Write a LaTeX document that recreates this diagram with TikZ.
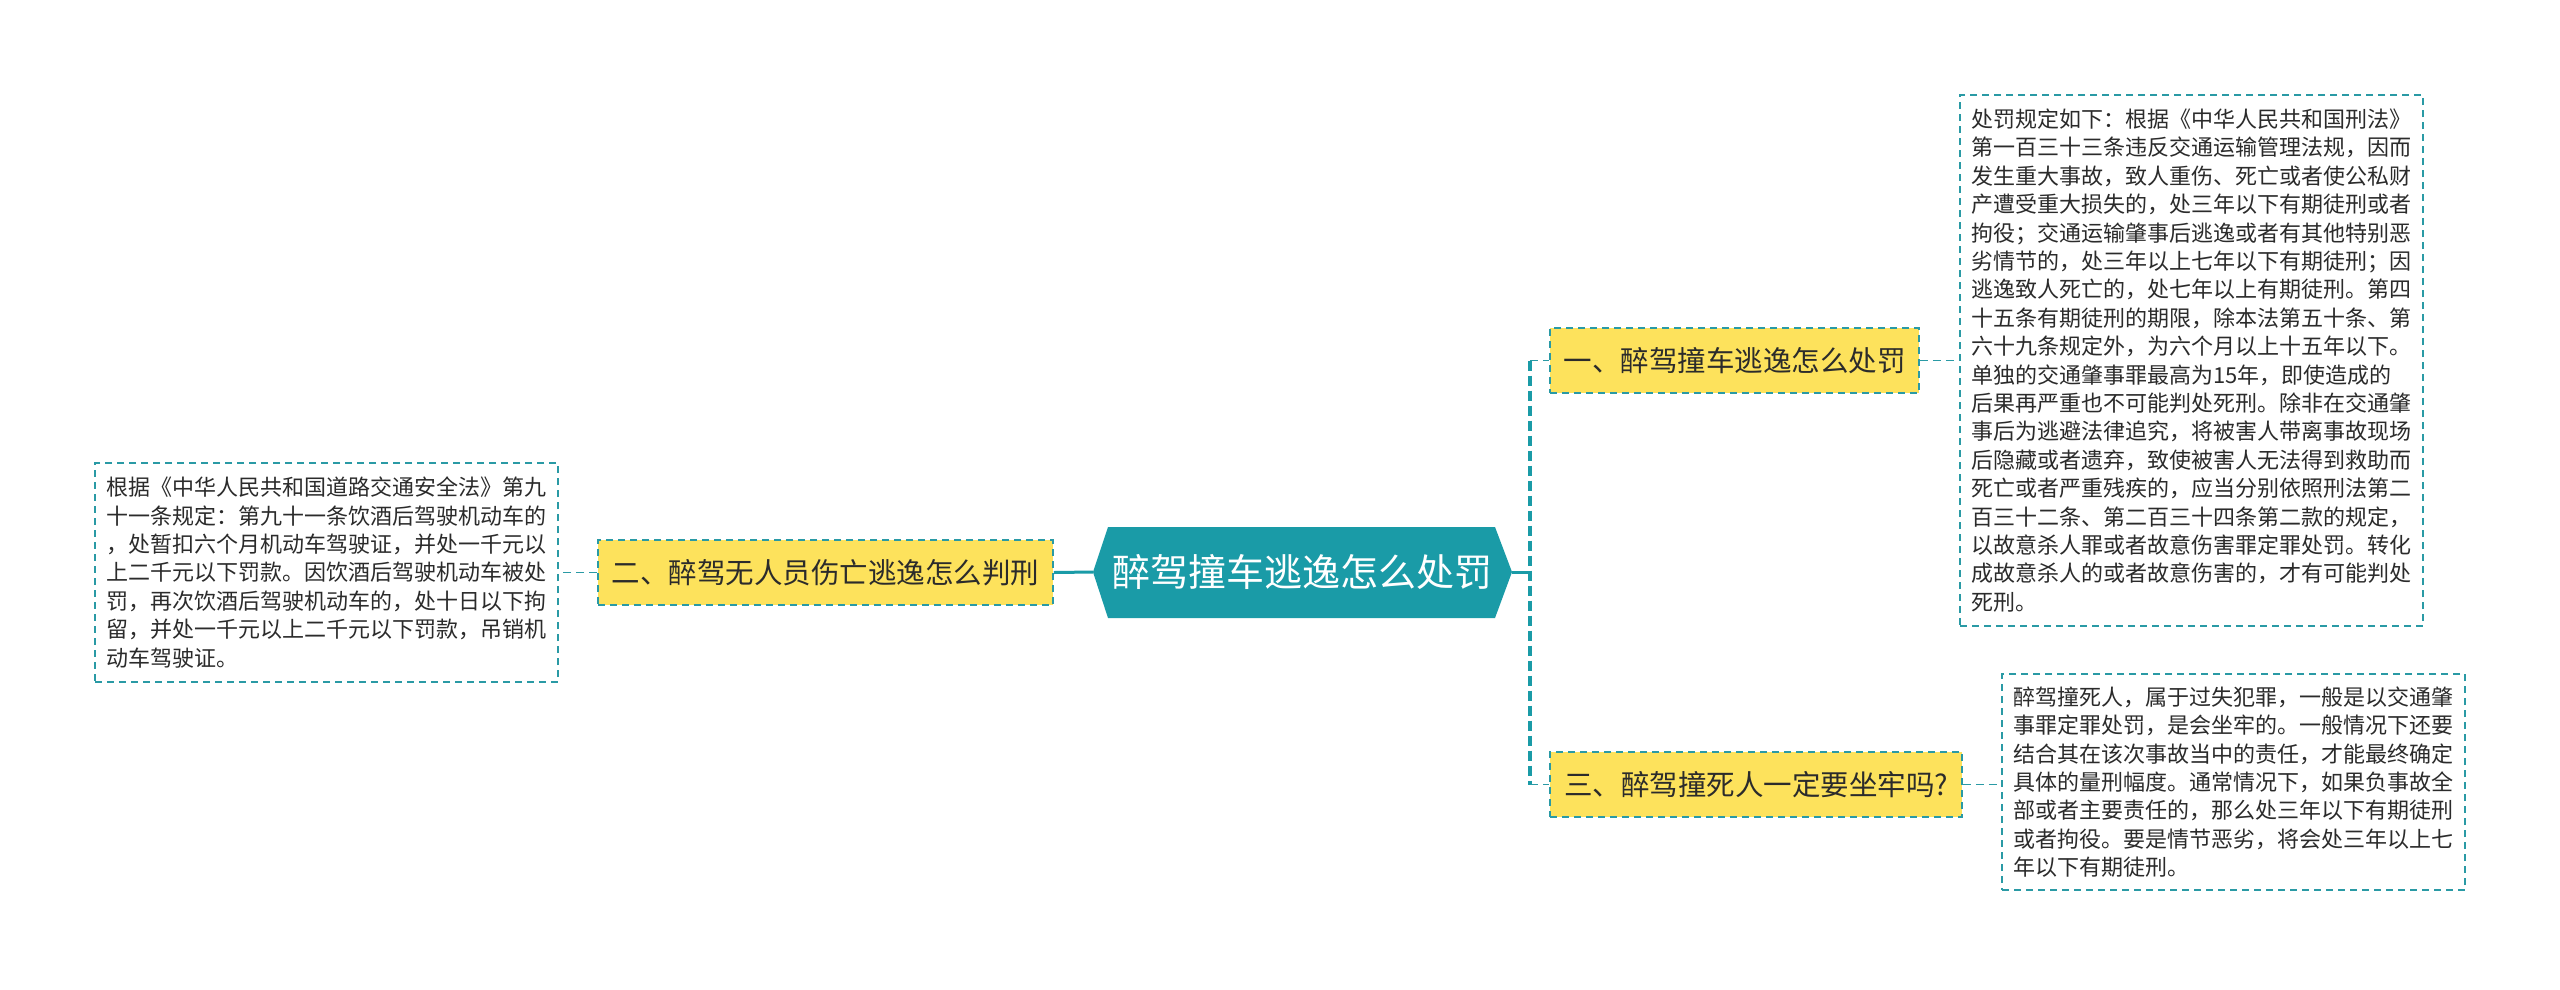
\documentclass[tikz,border=0pt]{standalone}
\usepackage{fontspec}
\setmainfont{Noto Sans CJK SC}
\definecolor{teal1}{HTML}{1A9BA7}
\definecolor{dash1}{HTML}{2A9AA5}
\definecolor{yel}{HTML}{FDE25C}
\definecolor{txt}{HTML}{2B2B2B}
\begin{document}
\begin{tikzpicture}[x=1pt,y=-1pt,
  topic/.style={draw=dash1, line width=1.6pt, dash pattern=on 7pt off 5pt, fill=yel, text=txt,
    font=\fontsize{28.5}{34}\selectfont, inner sep=0pt, anchor=center},
  detail/.style={draw=dash1, line width=1.6pt, dash pattern=on 7pt off 5pt, fill=white, text=txt,
    font=\fontsize{22}{28.4}\selectfont, align=left, inner sep=0pt, anchor=center},
  thin/.style={draw=dash1, line width=1.8pt, dash pattern=on 8pt off 5pt},
  trunk/.style={draw=teal1, line width=3.5pt, dash pattern=on 10pt off 5pt},
  solid/.style={draw=teal1, line width=3pt}]
\useasboundingbox (0,0) rectangle (2560,989);
\fill[white] (0,0) rectangle (2560,989);
% central hexagon
\fill[teal1] (1093,572) -- (1108,527) -- (1495,527) -- (1512,572) -- (1495,618) -- (1108,618) -- cycle;
\node[text=white, font=\fontsize{38}{44}\selectfont] (c) at (1302,572) {醉驾撞车逃逸怎么处罚};
\coordinate (cL) at (1093,572);
\coordinate (cR) at (1512,572);
% topic nodes
\node[topic, minimum width=369pt, minimum height=65pt] (n1) at (1734.5,360.5) {一、醉驾撞车逃逸怎么处罚};
\node[topic, minimum width=455pt, minimum height=65pt] (n2) at (825.5,572.5) {二、醉驾无人员伤亡逃逸怎么判刑};
\node[topic, minimum width=412pt, minimum height=65pt] (n3) at (1756,784.5) {三、醉驾撞死人一定要坐牢吗?};
% detail nodes
\node[detail, minimum width=463pt, minimum height=531pt] (d1) at (2191.5,360.5) {处罚规定如下：根据《中华人民共和国刑法》\\第一百三十三条违反交通运输管理法规，因而\\发生重大事故，致人重伤、死亡或者使公私财\\产遭受重大损失的，处三年以下有期徒刑或者\\拘役；交通运输肇事后逃逸或者有其他特别恶\\劣情节的，处三年以上七年以下有期徒刑；因\\逃逸致人死亡的，处七年以上有期徒刑。第四\\十五条有期徒刑的期限，除本法第五十条、第\\六十九条规定外，为六个月以上十五年以下。\\单独的交通肇事罪最高为15年，即使造成的\\后果再严重也不可能判处死刑。除非在交通肇\\事后为逃避法律追究，将被害人带离事故现场\\后隐藏或者遗弃，致使被害人无法得到救助而\\死亡或者严重残疾的，应当分别依照刑法第二\\百三十二条、第二百三十四条第二款的规定，\\以故意杀人罪或者故意伤害罪定罪处罚。转化\\成故意杀人的或者故意伤害的，才有可能判处\\死刑。};
\node[detail, minimum width=463pt, minimum height=216pt] (d2) at (2233.5,782) {醉驾撞死人，属于过失犯罪，一般是以交通肇\\事罪定罪处罚，是会坐牢的。一般情况下还要\\结合其在该次事故当中的责任，才能最终确定\\具体的量刑幅度。通常情况下，如果负事故全\\部或者主要责任的，那么处三年以下有期徒刑\\或者拘役。要是情节恶劣，将会处三年以上七\\年以下有期徒刑。};
\node[detail, minimum width=463pt, minimum height=219pt] (d4) at (326.5,572.5) {根据《中华人民共和国道路交通安全法》第九\\十一条规定：第九十一条饮酒后驾驶机动车的\\，处暂扣六个月机动车驾驶证，并处一千元以\\上二千元以下罚款。因饮酒后驾驶机动车被处\\罚，再次饮酒后驾驶机动车的，处十日以下拘\\留，并处一千元以上二千元以下罚款，吊销机\\动车驾驶证。};
% connectors
\coordinate (t1) at (1530,360.5);
\coordinate (tm) at (1530,572);
\coordinate (t3) at (1530,784.5);
\draw[solid] (cR) -- (tm);
\draw[trunk] (t1) -- (t3);
\draw[thin] (t1) -- (n1.west);
\draw[thin] (t3) -- (n3.west);
\draw[solid] (cL) -- (n2.east);
\draw[thin] (n1.east) -- (d1.west);
\draw[thin] (n3.east) -- (n3.east -| d2.west);
\draw[thin] (n2.west) -- (d4.east);
\end{tikzpicture}
\end{document}
